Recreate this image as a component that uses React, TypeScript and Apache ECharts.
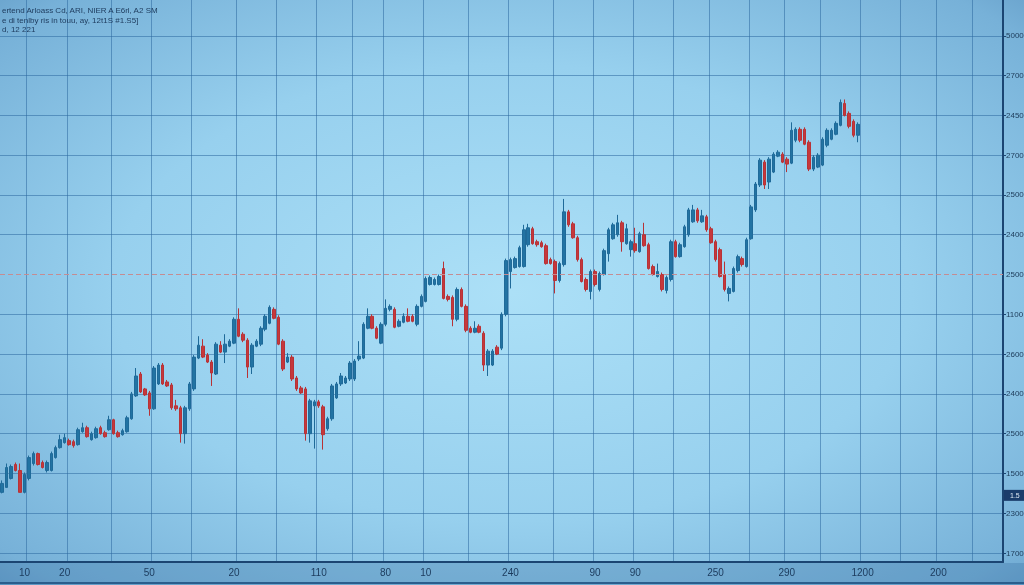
import React, { useEffect, useRef } from 'react';
import * as echarts from 'echarts';

// ---- data (price units; one grid step = 40) ----
const openPrices = [
  61, 66, 75, 89, 83, 61, 75, 90, 100, 91,
  83, 83, 96, 106, 111, 113, 112, 109, 122, 126,
  114, 116, 126, 121, 124, 134, 121, 119, 122, 135,
  158, 180, 165, 161, 145, 170, 189, 172, 169, 148,
  146, 120, 145, 165, 196, 208, 199, 192, 180, 209,
  202, 208, 211, 235, 220, 214, 187, 208, 210, 225,
  231, 245, 237, 213, 192, 197, 176, 166, 165, 120,
  148, 152, 147, 125, 135, 156, 170, 171, 175, 175,
  195, 196, 226, 238, 226, 211, 230, 245, 245, 228,
  232, 238, 238, 230, 248, 253, 270, 270, 270, 286,
  258, 257, 235, 265, 248, 226, 222, 228, 221, 189,
  189, 207, 206, 240, 283, 287, 288, 288, 310, 326,
  313, 312, 309, 295, 293, 274, 290, 343, 331, 317,
  295, 275, 263, 283, 265, 280, 301, 316, 320, 332,
  311, 305, 311, 303, 320, 310, 288, 278, 280, 264,
  275, 313, 298, 308, 320, 333, 345, 333, 338, 326,
  313, 305, 280, 261, 263, 284, 296, 288, 316, 345,
  370, 393, 373, 383, 399, 401, 396, 392, 415, 426,
  426, 413, 386, 388, 390, 410, 416, 421, 430, 452,
  442, 434, 420,
];
const closePrices = [
  70, 86, 87, 83, 61, 79, 96, 100, 89, 86,
  91, 100, 106, 114, 116, 109, 108, 124, 126, 117,
  120, 125, 120, 117, 134, 120, 117, 123, 136, 160,
  178, 162, 159, 145, 186, 189, 170, 168, 146, 145,
  120, 146, 170, 197, 209, 197, 192, 181, 210, 202,
  210, 213, 235, 218, 214, 187, 209, 213, 226, 238,
  247, 236, 210, 185, 197, 175, 165, 161, 120, 153,
  152, 148, 119, 135, 168, 170, 178, 176, 191, 193,
  198, 230, 238, 226, 216, 230, 246, 248, 227, 233,
  238, 233, 233, 248, 258, 276, 277, 275, 278, 256,
  255, 235, 265, 248, 224, 222, 226, 222, 189, 203,
  203, 200, 240, 294, 295, 296, 307, 325, 327, 311,
  310, 308, 291, 291, 274, 291, 343, 330, 317, 295,
  273, 265, 283, 270, 281, 304, 325, 330, 332, 313,
  326, 313, 304, 321, 309, 286, 280, 283, 265, 277,
  313, 298, 310, 328, 345, 345, 334, 339, 325, 312,
  295, 278, 265, 266, 286, 298, 290, 315, 348, 371,
  395, 370, 396, 401, 403, 393, 391, 425, 426, 415,
  411, 386, 398, 400, 416, 425, 425, 432, 453, 440,
  429, 420, 431,
];
const lowPrices = [
  60, 66, 74, 82, 61, 60, 73, 88, 88, 85,
  81, 82, 95, 105, 110, 108, 106, 108, 121, 116,
  113, 115, 119, 116, 123, 119, 116, 118, 121, 134,
  157, 161, 158, 138, 144, 169, 169, 167, 144, 143,
  111, 110, 143, 163, 195, 196, 191, 168, 179, 201,
  191, 207, 210, 217, 212, 176, 180, 207, 208, 223,
  230, 235, 209, 183, 191, 173, 163, 160, 113, 111,
  105, 146, 104, 123, 133, 155, 168, 170, 173, 173,
  193, 195, 225, 225, 215, 210, 228, 243, 226, 227,
  231, 232, 232, 228, 247, 252, 269, 269, 269, 255,
  253, 228, 233, 247, 222, 221, 221, 221, 183, 178,
  188, 199, 204, 238, 266, 286, 287, 287, 308, 310,
  308, 307, 290, 290, 261, 272, 288, 328, 316, 293,
  272, 263, 255, 268, 263, 279, 293, 315, 318, 303,
  310, 298, 302, 302, 308, 285, 279, 277, 263, 261,
  273, 297, 297, 307, 318, 332, 332, 332, 323, 311,
  293, 277, 263, 253, 262, 282, 288, 287, 315, 343,
  368, 366, 366, 382, 398, 392, 383, 391, 413, 413,
  410, 384, 384, 387, 389, 408, 415, 420, 429, 439,
  427, 418, 413,
];
const highPrices = [
  73, 90, 89, 91, 90, 81, 98, 102, 101, 93,
  93, 102, 108, 119, 120, 115, 114, 126, 131, 128,
  122, 127, 128, 123, 138, 135, 123, 125, 138, 162,
  186, 182, 166, 163, 188, 191, 191, 174, 171, 154,
  148, 148, 172, 199, 218, 215, 201, 194, 212, 213,
  220, 215, 237, 246, 222, 216, 211, 215, 228, 240,
  249, 247, 239, 215, 201, 199, 178, 168, 167, 155,
  154, 154, 149, 137, 170, 172, 181, 178, 193, 195,
  213, 232, 246, 240, 228, 232, 255, 250, 247, 235,
  241, 246, 240, 250, 260, 278, 279, 277, 280, 293,
  260, 259, 267, 267, 250, 228, 233, 230, 223, 205,
  205, 209, 242, 296, 297, 298, 309, 330, 331, 328,
  315, 314, 311, 297, 295, 293, 356, 345, 333, 319,
  297, 277, 285, 285, 283, 306, 327, 332, 340, 334,
  331, 315, 327, 323, 332, 312, 290, 291, 282, 279,
  315, 315, 312, 330, 347, 350, 347, 345, 340, 328,
  315, 307, 293, 268, 288, 300, 298, 317, 350, 373,
  397, 395, 398, 403, 405, 403, 398, 433, 428, 428,
  428, 415, 400, 402, 418, 427, 427, 434, 456, 456,
  444, 436, 433,
];

const periodCount = 225;
const periods = Array.from({ length: periodCount }, (_, i) => String(i + 1));

// vertical grid lines (period boundaries) and bottom tick labels
const xGridAt = [6, 15, 25, 34, 43, 53, 62, 71, 79, 86, 95, 105, 114, 124, 133, 142, 151, 159, 168, 176, 184, 193, 202, 210, 218];
const xLabelAt = [5, 14, 33, 52, 71, 86, 95, 114, 133, 142, 160, 176, 193, 210];
const xLabels = ['10', '20', '50', '20', '110', '80', '10', '240', '90', '90', '250', '290', '1200', '200'];

// right axis ticks and labels
const yGridValues = [0, 40, 80, 120, 160, 200, 240, 280, 320, 360, 400, 440, 480, 520];
const yLabels = ['1700', '2300', '1500', '2500', '2400', '2600', '1100', '2500', '2400', '2500', '2700', '2450', '2700', '5000'];

const refLevel = 280;
const tagLevel = 58;
const tagText = '1.5';

const headerLines = [
  'ertend Arloass Cd, ARI, NIER A E6rl, A2 SM',
  'e di tenlby ris in touu, ay, 12t1S #1.S5]',
  'd, 12 221',
];

const FONT = '"Liberation Sans", Arial, sans-serif';

export default function App() {
  const ref = useRef<HTMLDivElement>(null);
  useEffect(() => {
    if (!ref.current) return;
    const chart = echarts.init(ref.current, undefined, { renderer: 'svg' });
    const candles = openPrices.map((o, i) => [o, closePrices[i], lowPrices[i], highPrices[i]]);
    const gridLine = { color: 'rgba(45, 105, 160, 0.55)', width: 1 };
    const axisDark = '#1b4572';
    const option: any = {
      animation: false,
      backgroundColor: new echarts.graphic.RadialGradient(0.5, 0.5, 0.78, [
        { offset: 0, color: '#ace0f7' },
        { offset: 0.5, color: '#97d0ee' },
        { offset: 0.85, color: '#77b1d8' },
        { offset: 1, color: '#5c94c0' },
      ]),
      textStyle: { fontFamily: FONT },
      title: {
        text: headerLines.join('\n'),
        left: -3,
        top: 1,
        textStyle: { fontSize: 8, lineHeight: 9.5, color: '#1d3a5c', fontWeight: 'normal', fontFamily: FONT },
      },
      grid: { left: 0, right: 21, top: 0, bottom: 23, containLabel: false, outerBoundsMode: 'none' },
      xAxis: {
        type: 'category',
        data: periods,
        boundaryGap: true,
        axisLine: { show: true, onZero: false, lineStyle: { color: axisDark, width: 2 } },
        axisTick: { show: false },
        axisLabel: {
          interval: (i: number) => xLabelAt.indexOf(i) >= 0,
          formatter: (_v: string, i: number) => {
            const k = xLabelAt.indexOf(i);
            return k >= 0 ? xLabels[k] : '';
          },
          color: '#1b3a5c',
          fontSize: 10,
          margin: 5,
          fontFamily: FONT,
        },
        splitLine: {
          show: true,
          interval: (i: number) => xGridAt.indexOf(i) >= 0,
          lineStyle: gridLine,
        },
      },
      yAxis: {
        type: 'value',
        position: 'right',
        min: -9,
        max: 556,
        axisLine: { show: true, onZero: false, lineStyle: { color: axisDark, width: 2 } },
        axisTick: {
          show: true,
          length: 3,
          customValues: yGridValues.filter((v) => v !== refLevel),
          lineStyle: { color: axisDark, width: 1 },
        },
        axisLabel: {
          customValues: yGridValues,
          formatter: (v: number) => {
            const k = yGridValues.indexOf(Math.round(v));
            return k >= 0 ? yLabels[k] : '';
          },
          color: '#21405f',
          fontSize: 8,
          margin: 3,
          fontFamily: FONT,
        },
        splitLine: { show: true, lineStyle: gridLine },
      },
      series: [
        {
          type: 'candlestick',
          data: candles,
          barWidth: 3,
          itemStyle: {
            color: '#2273a3',
            color0: '#c5383c',
            borderColor: '#1f6a99',
            borderColor0: '#b83236',
            borderWidth: 1,
          },
          markLine: {
            silent: true,
            symbol: ['none', 'none'],
            data: [
              {
                yAxis: refLevel,
                lineStyle: { color: '#c58c92', type: [5, 3], width: 1.2 },
                label: { show: false },
              },
              {
                yAxis: tagLevel,
                lineStyle: { color: 'rgba(0,0,0,0)', width: 0 },
                label: {
                  show: true,
                  position: 'end',
                  formatter: tagText,
                  color: '#dfe9f5',
                  fontSize: 7,
                  backgroundColor: '#1a3c6b',
                  padding: [2, 6, 2, 6],
                  distance: 1,
                },
              },
            ],
          },
        },
      ],
      graphic: [
        {
          type: 'rect',
          z: -10,
          shape: { x: 0, y: 563, width: 1024, height: 22 },
          style: { fill: 'rgba(30, 85, 140, 0.22)' },
        },
        {
          type: 'line',
          shape: { x1: 0, y1: 583, x2: 1024, y2: 583 },
          style: { stroke: '#2a5d8c', lineWidth: 2 },
        },
      ],
    };
    chart.setOption(option);
    return () => chart.dispose();
  }, []);
  return (
    <div
      ref={ref}
      style={{ position: 'fixed', left: 0, top: 0, width: 1024, height: 585 }}
    />
  );
}
